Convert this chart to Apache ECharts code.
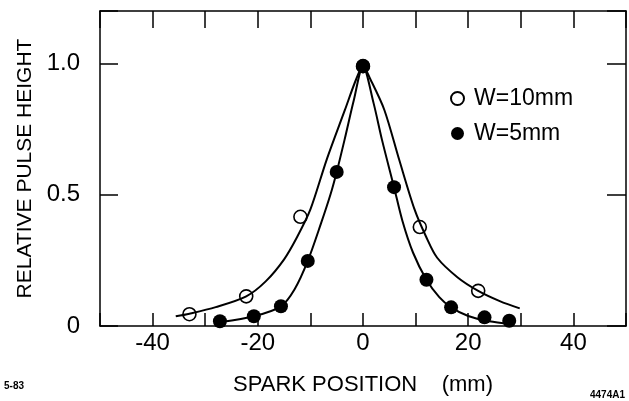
<!DOCTYPE html>
<html>
<head>
<meta charset="utf-8">
<script src="https://cdn.jsdelivr.net/npm/echarts@6/dist/echarts.min.js"></script>
<style>
  html, body { margin: 0; padding: 0; background: #fff; }
  #chart { width: 629px; height: 401px; }
</style>
</head>
<body>
<div id="chart"></div>
<script>
// measured points
const wideX = [-33, -22.2, -11.9, 0, 10.8, 21.9]
const wideY = [0.045, 0.113, 0.416, 0.99, 0.377, 0.134]
const narrowX = [-27.2, -20.75, -15.6, -10.5, -5, 0, 5.9, 12.06, 16.75, 23.1, 27.8]
const narrowY = [0.018, 0.037, 0.075, 0.248, 0.587, 0.99, 0.529, 0.176, 0.071, 0.033, 0.02]

// fitted curves
const wideFitX = [-35.6, -33, -28, -22.2, -18.5, -15, -12.5, -10, -6.9, -3.44, -1.3, 0, 1.4, 4.06, 6.87, 9.8, 12, 14.1, 18, 21.9, 26, 29.8]
const wideFitY = [0.037, 0.047, 0.072, 0.113, 0.17, 0.254, 0.34, 0.444, 0.634, 0.823, 0.94, 0.99, 0.94, 0.823, 0.634, 0.444, 0.34, 0.26, 0.185, 0.134, 0.095, 0.067]
const narrowFitX = [-27, -20.75, -15.6, -13, -10.5, -8, -6.2, -5, -3.5, -1.75, 0, 2, 3.6, 5.9, 7.5, 9.5, 12.06, 14.5, 16.75, 20, 24, 28]
const narrowFitY = [0.015, 0.037, 0.075, 0.14, 0.248, 0.39, 0.5, 0.587, 0.71, 0.86, 0.99, 0.85, 0.71, 0.529, 0.4, 0.28, 0.176, 0.11, 0.071, 0.038, 0.018, 0.008]

const xTickLabels = [-40, -20, 0, 20, 40]
const yTickLabels = { 0: '0', 0.5: '0.5', 1: '1.0' }

const zip = (xs, ys) => xs.map((x, i) => [x, ys[i]])
const font = 'Liberation Sans'

const baseX = {
  type: 'value',
  min: -50,
  max: 50,
  interval: 10,
  splitLine: { show: false },
  axisLine: { onZero: false, lineStyle: { color: '#000', width: 1.5 } }
}
const baseY = {
  type: 'value',
  min: 0,
  max: 1.2,
  interval: 0.5,
  splitLine: { show: false },
  axisLine: { show: true, onZero: false, lineStyle: { color: '#000', width: 1.5 } }
}

const chart = echarts.init(document.getElementById('chart'))
chart.setOption({
  backgroundColor: '#fff',
  animation: false,
  title: [
    { text: '5-83', left: 4, top: 381, padding: 0, textStyle: { fontSize: 10, fontWeight: 'bold', fontFamily: font, color: '#000' } },
    { text: '4474A1', right: 4, top: 390, padding: 0, textStyle: { fontSize: 10, fontWeight: 'bold', fontFamily: font, color: '#000' } }
  ],
  grid: { left: 100, right: -4, top: 11, bottom: 74 },
  legend: {
    orient: 'vertical',
    left: 445,
    top: 82,
    itemWidth: 13,
    itemHeight: 13,
    itemGap: 12,
    data: ['W=10mm', 'W=5mm'],
    textStyle: { fontSize: 23, fontFamily: font, color: '#000', padding: [0, 0, 0, 5] }
  },
  xAxis: [
    Object.assign({}, baseX, {
      position: 'bottom',
      name: 'SPARK POSITION    (mm)',
      nameLocation: 'middle',
      nameGap: 48,
      nameTextStyle: { fontSize: 22, fontFamily: font, color: '#000' },
      axisTick: { inside: true, length: 13, lineStyle: { color: '#000', width: 1.5 } },
      axisLabel: {
        margin: 5,
        fontSize: 24,
        fontFamily: font,
        color: '#000',
        formatter: v => (xTickLabels.includes(v) ? String(v) : '')
      }
    }),
    Object.assign({}, baseX, {
      position: 'top',
      axisTick: { inside: true, length: 17, lineStyle: { color: '#000', width: 1.5 } },
      axisLabel: { show: false }
    })
  ],
  yAxis: [
    Object.assign({}, baseY, {
      position: 'left',
      name: 'RELATIVE PULSE HEIGHT',
      nameLocation: 'middle',
      nameGap: 64,
      nameTextStyle: { fontSize: 21, fontFamily: font, color: '#000' },
      axisTick: { inside: true, length: 18, lineStyle: { color: '#000', width: 1.5 } },
      axisLabel: {
        margin: 20,
        fontSize: 24,
        fontFamily: font,
        color: '#000',
        formatter: v => (yTickLabels[v] !== undefined ? yTickLabels[v] : '')
      }
    }),
    Object.assign({}, baseY, {
      position: 'right',
      axisTick: { inside: true, length: 19, lineStyle: { color: '#000', width: 1.5 } },
      axisLabel: { show: false }
    })
  ],
  series: [
    {
      name: 'fit10',
      type: 'line',
      data: zip(wideFitX, wideFitY),
      smooth: 0.3,
      symbol: 'none',
      lineStyle: { color: '#000', width: 2 }
    },
    {
      name: 'fit5',
      type: 'line',
      data: zip(narrowFitX, narrowFitY),
      smooth: 0.3,
      symbol: 'none',
      lineStyle: { color: '#000', width: 2 }
    },
    {
      name: 'W=10mm',
      type: 'scatter',
      data: zip(wideX, wideY),
      symbol: 'circle',
      symbolSize: 13,
      itemStyle: { color: '#fff', borderColor: '#000', borderWidth: 1.6, opacity: 1 }
    },
    {
      name: 'W=5mm',
      type: 'scatter',
      data: zip(narrowX, narrowY),
      symbol: 'circle',
      symbolSize: 14,
      itemStyle: { color: '#000', opacity: 1 }
    }
  ]
})
</script>
</body>
</html>
